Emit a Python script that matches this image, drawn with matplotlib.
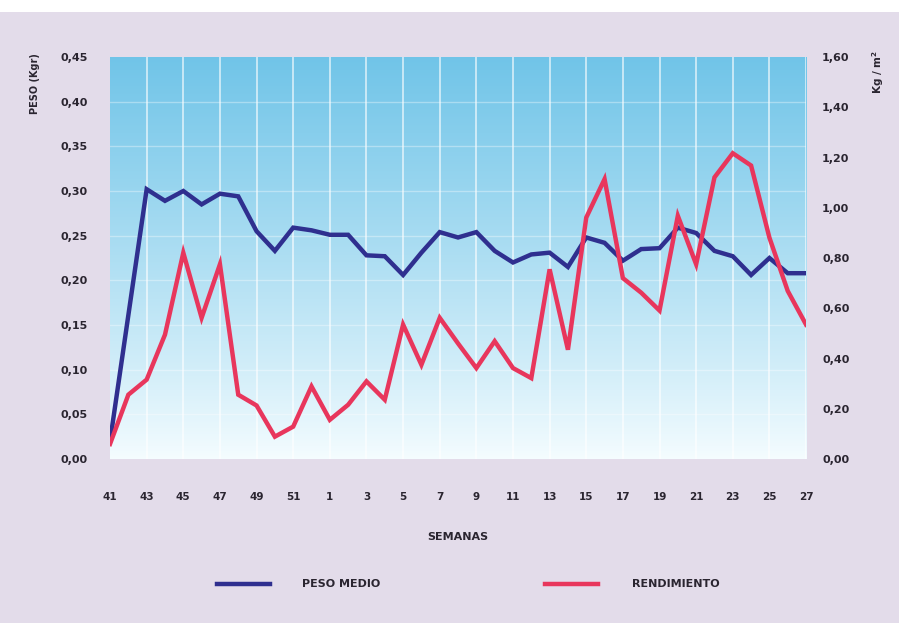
import matplotlib.pyplot as plt
import numpy as np
from matplotlib.lines import Line2D
from matplotlib.patches import Rectangle
from matplotlib.ticker import FuncFormatter

semanas = list(range(41, 53)) + list(range(1, 28))
semanas_peso = [41] + list(range(43, 53)) + list(range(1, 28))

peso_medio = [0.020, 0.302, 0.289, 0.300, 0.285, 0.297, 0.294, 0.255, 0.233, 0.259, 0.256,
              0.251, 0.251, 0.228, 0.227, 0.206, 0.231, 0.254, 0.248, 0.254, 0.233,
              0.220, 0.229, 0.231, 0.215, 0.248, 0.242, 0.222, 0.235, 0.236, 0.259,
              0.253, 0.233, 0.227, 0.206, 0.225, 0.208, 0.208]

rendimiento = [0.06, 0.256, 0.316, 0.495, 0.821, 0.562, 0.775, 0.256, 0.213, 0.089, 0.129, 0.289,
               0.156, 0.216, 0.309, 0.236, 0.535, 0.375, 0.562, 0.46, 0.362, 0.469,
               0.362, 0.322, 0.755, 0.435, 0.961, 1.114, 0.72, 0.662, 0.591, 0.968,
               0.775, 1.121, 1.217, 1.168, 0.881, 0.669, 0.535]

azul = '#2f2f8f'
rojo = '#e8365c'
texto = '#2a2530'
fondo = '#e3dcea'

plt.rcParams['font.family'] = ['DejaVu Sans']
plt.rcParams['font.weight'] = 'bold'

fig = plt.figure(figsize=(8.99, 6.23), dpi=100, facecolor=fondo)
fig.patches.append(Rectangle((0, 1 - 12 / 623), 1, 12 / 623, transform=fig.transFigure,
                             facecolor='white', edgecolor='none', zorder=0))
ax = fig.add_axes([0.1224, 0.2632, 0.7742, 0.6453])
ax2 = ax.twinx()

x = np.arange(len(semanas))
x_peso = np.array([semanas.index(s) for s in semanas_peso])

# degradado azul del fondo
grad = np.linspace(0, 1, 256).reshape(-1, 1)
arriba = np.array([0.44, 0.77, 0.91])
abajo = np.array([0.96, 0.99, 1.0])
img = abajo + (arriba - abajo) * grad ** 0.9
ax.imshow(img[:, None, :].repeat(2, axis=1), extent=[0, 1, 0, 1], transform=ax.transAxes,
          aspect='auto', origin='lower', zorder=0)

ax.set_xlim(0, len(semanas) - 1)
ax.set_ylim(0, 0.45)
ax2.set_ylim(0, 1.60)

for xi in x[2::2]:
    ax.axvline(xi, color='white', lw=1.2, alpha=0.7, zorder=1)
for yi in np.arange(0.05, 0.45, 0.05):
    ax.axhline(yi, color='white', lw=1.0, alpha=0.35, zorder=1)

ax.plot(x_peso, peso_medio, color=azul, lw=3.2, zorder=3, solid_joinstyle='miter')
ax2.plot(x, rendimiento, color=rojo, lw=3.2, zorder=3, solid_joinstyle='miter')

for a in (ax, ax2):
    for s in a.spines.values():
        s.set_visible(False)

coma = lambda v, p: ('%.2f' % v).replace('.', ',')
ax.set_yticks(np.arange(0, 0.451, 0.05))
ax.yaxis.set_major_formatter(FuncFormatter(coma))
ax2.set_yticks(np.arange(0, 1.61, 0.2))
ax2.yaxis.set_major_formatter(FuncFormatter(coma))
ax.tick_params(axis='y', length=0, pad=16, labelsize=8, labelcolor=texto)
ax2.tick_params(axis='y', length=0, pad=11.5, labelsize=8, labelcolor=texto)

ax.set_xticks(x[::2])
ax.set_xticklabels([str(s) for s in semanas[::2]])
ax.tick_params(axis='x', length=0, pad=24, labelsize=7.5, labelcolor=texto)

fig.text(0.5094, 1 - 537 / 623, 'SEMANAS', ha='center', va='center', fontsize=8,
         color=texto, fontweight='bold')
fig.text(35 / 899, 1 - 53 / 623, 'PESO (Kgr)', rotation=90, ha='center', va='top',
         fontsize=7, color=texto, fontweight='bold')
fig.text(878 / 899, 1 - 50 / 623, 'Kg / m$^\\mathbf{2}$', rotation=90, ha='center', va='top',
         fontsize=7.5, color=texto, fontweight='bold')

# leyenda
fig.add_artist(Line2D([217 / 899, 270 / 899], [1 - 584 / 623] * 2, color=azul, lw=3.2))
fig.text(302 / 899, 1 - 584 / 623, 'PESO MEDIO', ha='left', va='center', fontsize=8,
         color=texto, fontweight='bold')
fig.add_artist(Line2D([545 / 899, 598 / 899], [1 - 584 / 623] * 2, color=rojo, lw=3.2))
fig.text(632 / 899, 1 - 584 / 623, 'RENDIMIENTO', ha='left', va='center', fontsize=8,
         color=texto, fontweight='bold')

plt.savefig('out.png', dpi=100, facecolor=fondo)
